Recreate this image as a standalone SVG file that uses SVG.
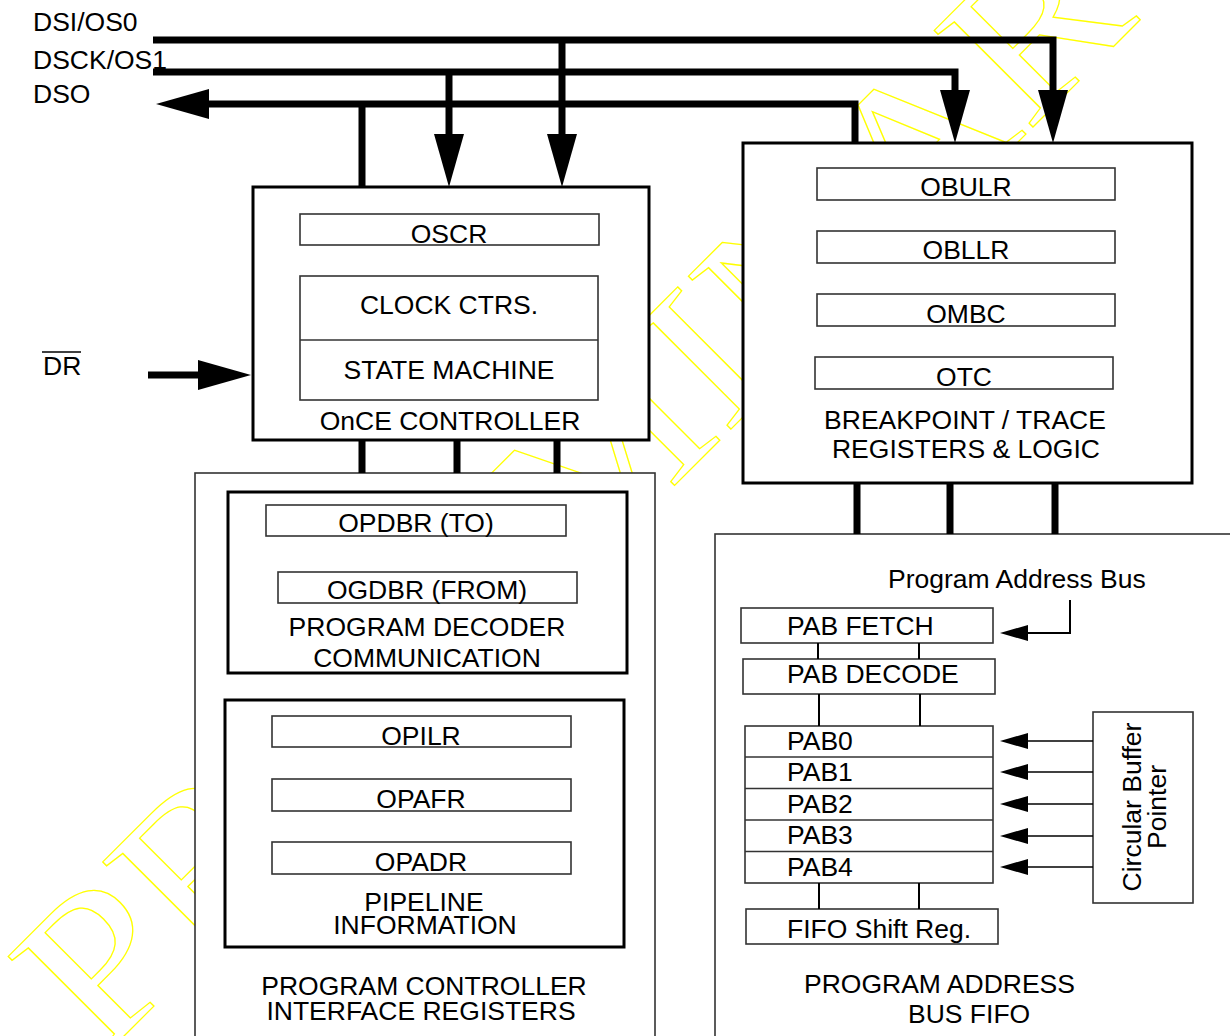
<svg xmlns="http://www.w3.org/2000/svg" width="1230" height="1036" viewBox="0 0 1230 1036">
<style>
text{font-family:"Liberation Sans",Arial,sans-serif;font-size:26.5px;fill:#000}
.c{text-anchor:middle}
.wm{font-family:"Liberation Serif","Times New Roman",serif;font-size:211px;fill:none;stroke:#ffff00;stroke-width:1.2}
.big{fill:#fff;stroke:#000;stroke-width:3}
.outer{fill:#fff;stroke:#333;stroke-width:1.6}
.reg{fill:#fff;stroke:#333;stroke-width:1.6}
.bus{fill:none;stroke:#000;stroke-width:7;stroke-linejoin:miter}
.thin{fill:none;stroke:#000;stroke-width:2}
.hair{fill:none;stroke:#000;stroke-width:1.5}
</style>
<defs>
<marker id="bigArrow" markerUnits="userSpaceOnUse" markerWidth="60" markerHeight="34" viewBox="0 -17 60 34" refX="2" refY="0" orient="auto"><path d="M0,-15 L53,0 L0,15 z" fill="#000"/></marker>
<marker id="smallArrow" markerUnits="userSpaceOnUse" markerWidth="32" markerHeight="20" viewBox="0 -10 32 20" refX="2" refY="0" orient="auto"><path d="M0,-8 L28,0 L0,8 z" fill="#000"/></marker>
</defs>
<rect width="1230" height="1036" fill="#fff"/>
<text class="wm" transform="translate(101,1059) rotate(-45) scale(1.14,1)">PRELIMINARY</text>

<g id="labels">
<text x="33" y="31">DSI/OS0</text>
<text x="33" y="69">DSCK/OS1</text>
<text x="33" y="103">DSO</text>
<text x="43" y="375">DR</text>
<line x1="42" y1="352" x2="81" y2="352" stroke="#000" stroke-width="1.5"/>
</g>

<g id="once-controller">
<rect class="big" x="253" y="187" width="396" height="253"/>
<rect class="reg" x="300" y="214" width="299" height="31"/>
<text class="c" x="449" y="243">OSCR</text>
<rect class="reg" x="300" y="276" width="298" height="124"/>
<line x1="300" y1="340" x2="598" y2="340" stroke="#333" stroke-width="1.6"/>
<text class="c" x="449" y="314">CLOCK CTRS.</text>
<text class="c" x="449" y="379">STATE MACHINE</text>
<text class="c" x="450" y="430">OnCE CONTROLLER</text>
</g>

<g id="breakpoint-trace">
<rect class="big" x="743" y="143" width="449" height="340"/>
<rect class="reg" x="817" y="168" width="298" height="32"/>
<text class="c" x="966" y="196">OBULR</text>
<rect class="reg" x="817" y="231" width="298" height="32"/>
<text class="c" x="966" y="259">OBLLR</text>
<rect class="reg" x="817" y="294" width="298" height="32"/>
<text class="c" x="966" y="323">OMBC</text>
<rect class="reg" x="815" y="357" width="298" height="32"/>
<text class="c" x="964" y="386">OTC</text>
<text class="c" x="965" y="429">BREAKPOINT / TRACE</text>
<text class="c" x="966" y="458">REGISTERS &amp; LOGIC</text>
</g>

<g id="program-controller-interface">
<rect class="outer" x="195" y="473" width="460" height="600"/>
<text class="c" x="424" y="995">PROGRAM CONTROLLER</text>
<text class="c" x="421" y="1020">INTERFACE REGISTERS</text>
</g>

<g id="program-decoder-communication">
<rect class="big" x="228" y="492" width="399" height="181"/>
<rect class="reg" x="266" y="505" width="300" height="31"/>
<text class="c" x="416" y="532">OPDBR (TO)</text>
<rect class="reg" x="278" y="572" width="299" height="31"/>
<text class="c" x="427" y="599">OGDBR (FROM)</text>
<text class="c" x="427" y="636">PROGRAM DECODER</text>
<text class="c" x="427" y="667">COMMUNICATION</text>
</g>

<g id="pipeline-information">
<rect class="big" x="225" y="700" width="399" height="247"/>
<rect class="reg" x="272" y="716" width="299" height="31"/>
<text class="c" x="421" y="745">OPILR</text>
<rect class="reg" x="272" y="779" width="299" height="32"/>
<text class="c" x="421" y="808">OPAFR</text>
<rect class="reg" x="272" y="842" width="299" height="32"/>
<text class="c" x="421" y="871">OPADR</text>
<text class="c" x="424" y="911">PIPELINE</text>
<text class="c" x="425" y="934">INFORMATION</text>
</g>

<g id="program-address-bus-fifo">
<rect class="outer" x="715" y="534" width="600" height="600"/>
<text x="888" y="588">Program Address Bus</text>
<text x="804" y="993">PROGRAM ADDRESS</text>
<text x="908" y="1023">BUS FIFO</text>
</g>

<g id="pab-fetch">
<rect class="reg" x="741" y="608" width="252" height="35"/>
<text x="787" y="635">PAB FETCH</text>
</g>
<g id="pab-decode">
<rect class="reg" x="743" y="659" width="252" height="35"/>
<text x="787" y="683">PAB DECODE</text>
</g>
<g id="pab-stack">
<rect class="reg" x="745" y="726" width="248" height="157"/>
<line x1="745" y1="757" x2="993" y2="757" stroke="#333" stroke-width="1.6"/>
<line x1="745" y1="788.5" x2="993" y2="788.5" stroke="#333" stroke-width="1.6"/>
<line x1="745" y1="820" x2="993" y2="820" stroke="#333" stroke-width="1.6"/>
<line x1="745" y1="851.5" x2="993" y2="851.5" stroke="#333" stroke-width="1.6"/>
<text x="787" y="750">PAB0</text>
<text x="787" y="781">PAB1</text>
<text x="787" y="813">PAB2</text>
<text x="787" y="844">PAB3</text>
<text x="787" y="876">PAB4</text>
</g>
<g id="fifo-shift-reg">
<rect class="reg" x="746" y="909" width="252" height="35"/>
<text x="787" y="938">FIFO Shift Reg.</text>
</g>
<g id="circular-buffer-pointer">
<rect class="reg" x="1093" y="712" width="100" height="191"/>
<text class="c" transform="translate(1141,807) rotate(-90)">Circular Buffer</text>
<text class="c" transform="translate(1166,807) rotate(-90)">Pointer</text>
</g>

<g id="connectors">
<path class="bus" d="M153,40 H1053 V92" marker-end="url(#bigArrow)"/>
<path class="bus" d="M562,40 V136" marker-end="url(#bigArrow)"/>
<path class="bus" d="M153,72 H955 V92" marker-end="url(#bigArrow)"/>
<path class="bus" d="M449,72 V136" marker-end="url(#bigArrow)"/>
<path class="bus" d="M855,143 V104 H207" marker-end="url(#bigArrow)"/>
<path class="bus" d="M362,187 V104"/>
<path class="bus" d="M148,375 H200" marker-end="url(#bigArrow)"/>
<path class="bus" d="M362,441 V473 M457,441 V473 M557,441 V473"/>
<path class="bus" d="M857,484 V534 M950,484 V534 M1055,484 V534"/>
<path class="thin" d="M1070,600 V633 H1026" marker-end="url(#smallArrow)"/>
<path class="thin" d="M818,643 V659 M919,643 V659"/>
<path class="thin" d="M819,694 V726 M920,694 V726"/>
<path class="thin" d="M819,883 V909 M919,883 V909"/>
<path class="hair" d="M1093,741 H1026" marker-end="url(#smallArrow)"/>
<path class="hair" d="M1093,772 H1026" marker-end="url(#smallArrow)"/>
<path class="hair" d="M1093,804 H1026" marker-end="url(#smallArrow)"/>
<path class="hair" d="M1093,836 H1026" marker-end="url(#smallArrow)"/>
<path class="hair" d="M1093,867 H1026" marker-end="url(#smallArrow)"/>
</g>
</svg>
